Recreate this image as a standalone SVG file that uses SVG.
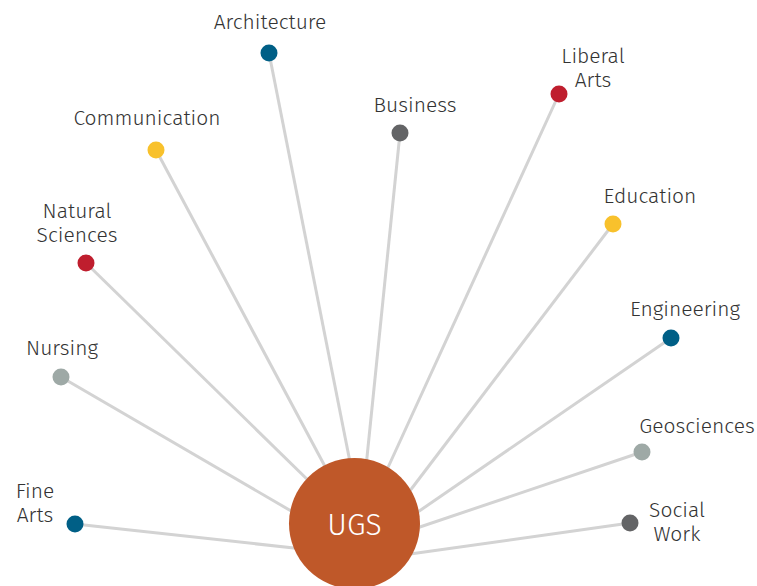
<svg xmlns="http://www.w3.org/2000/svg" width="757" height="586" viewBox="0 0 757 586">
<style>
.lbl{font-family:"Fira Sans","Noto Sans","Open Sans",sans-serif;font-size:21px;font-weight:300;fill:#333;text-anchor:middle}
.edge{stroke:#d3d3d3;stroke-width:3;fill:none}
.blue{fill:#005f86}.gray{fill:#636466}.red{fill:#bf1e2e}.yellow{fill:#f8c12c}.sage{fill:#9ea9a6}
</style>
<rect width="757" height="586" fill="#fff"/>
<g id="connectors">
<line class="edge" x1="269" y1="53" x2="351" y2="467"/>
<line class="edge" x1="400" y1="133" x2="366" y2="467"/>
<line class="edge" x1="156" y1="150" x2="328" y2="472"/>
<line class="edge" x1="559" y1="94" x2="385" y2="474"/>
<line class="edge" x1="86" y1="263" x2="313" y2="485"/>
<line class="edge" x1="613" y1="224" x2="406" y2="496"/>
<line class="edge" x1="61" y1="377" x2="298" y2="515"/>
<line class="edge" x1="671" y1="338" x2="412" y2="516"/>
<line class="edge" x1="642" y1="452" x2="411" y2="530"/>
<line class="edge" x1="75" y1="524" x2="303" y2="549"/>
<line class="edge" x1="630" y1="523" x2="403" y2="555"/>
</g>
<g id="ugs">
<circle cx="354.5" cy="523.5" r="65.5" fill="#bf5829"/>
<text x="354.5" y="535" font-family="'Fira Sans','Noto Sans','Open Sans',sans-serif" font-size="30" font-weight="300" fill="#fff" text-anchor="middle">UGS</text>
</g>
<g id="architecture"><circle class="blue" cx="269" cy="53" r="8.5"/><text class="lbl" x="270" y="29">Architecture</text></g>
<g id="business"><circle class="gray" cx="400" cy="133" r="8.5"/><text class="lbl" x="415" y="112">Business</text></g>
<g id="liberal-arts"><circle class="red" cx="559" cy="94" r="8.5"/><text class="lbl" x="593" y="63">Liberal</text><text class="lbl" x="593" y="87">Arts</text></g>
<g id="communication"><circle class="yellow" cx="156" cy="150" r="8.5"/><text class="lbl" x="147" y="125">Communication</text></g>
<g id="education"><circle class="yellow" cx="613" cy="224" r="8.5"/><text class="lbl" x="650" y="203">Education</text></g>
<g id="natural-sciences"><circle class="red" cx="86" cy="263" r="8.5"/><text class="lbl" x="77" y="218">Natural</text><text class="lbl" x="77" y="242">Sciences</text></g>
<g id="engineering"><circle class="blue" cx="671" cy="338" r="8.5"/><text class="lbl" x="685" y="316">Engineering</text></g>
<g id="nursing"><circle class="sage" cx="61" cy="377" r="8.5"/><text class="lbl" x="62" y="355">Nursing</text></g>
<g id="geosciences"><circle class="sage" cx="642" cy="452" r="8.5"/><text class="lbl" x="697" y="433">Geosciences</text></g>
<g id="fine-arts"><circle class="blue" cx="75" cy="524" r="8.5"/><text class="lbl" x="35" y="498">Fine</text><text class="lbl" x="35" y="522">Arts</text></g>
<g id="social-work"><circle class="gray" cx="630" cy="523" r="8.5"/><text class="lbl" x="677" y="517">Social</text><text class="lbl" x="677" y="541">Work</text></g>
</svg>
